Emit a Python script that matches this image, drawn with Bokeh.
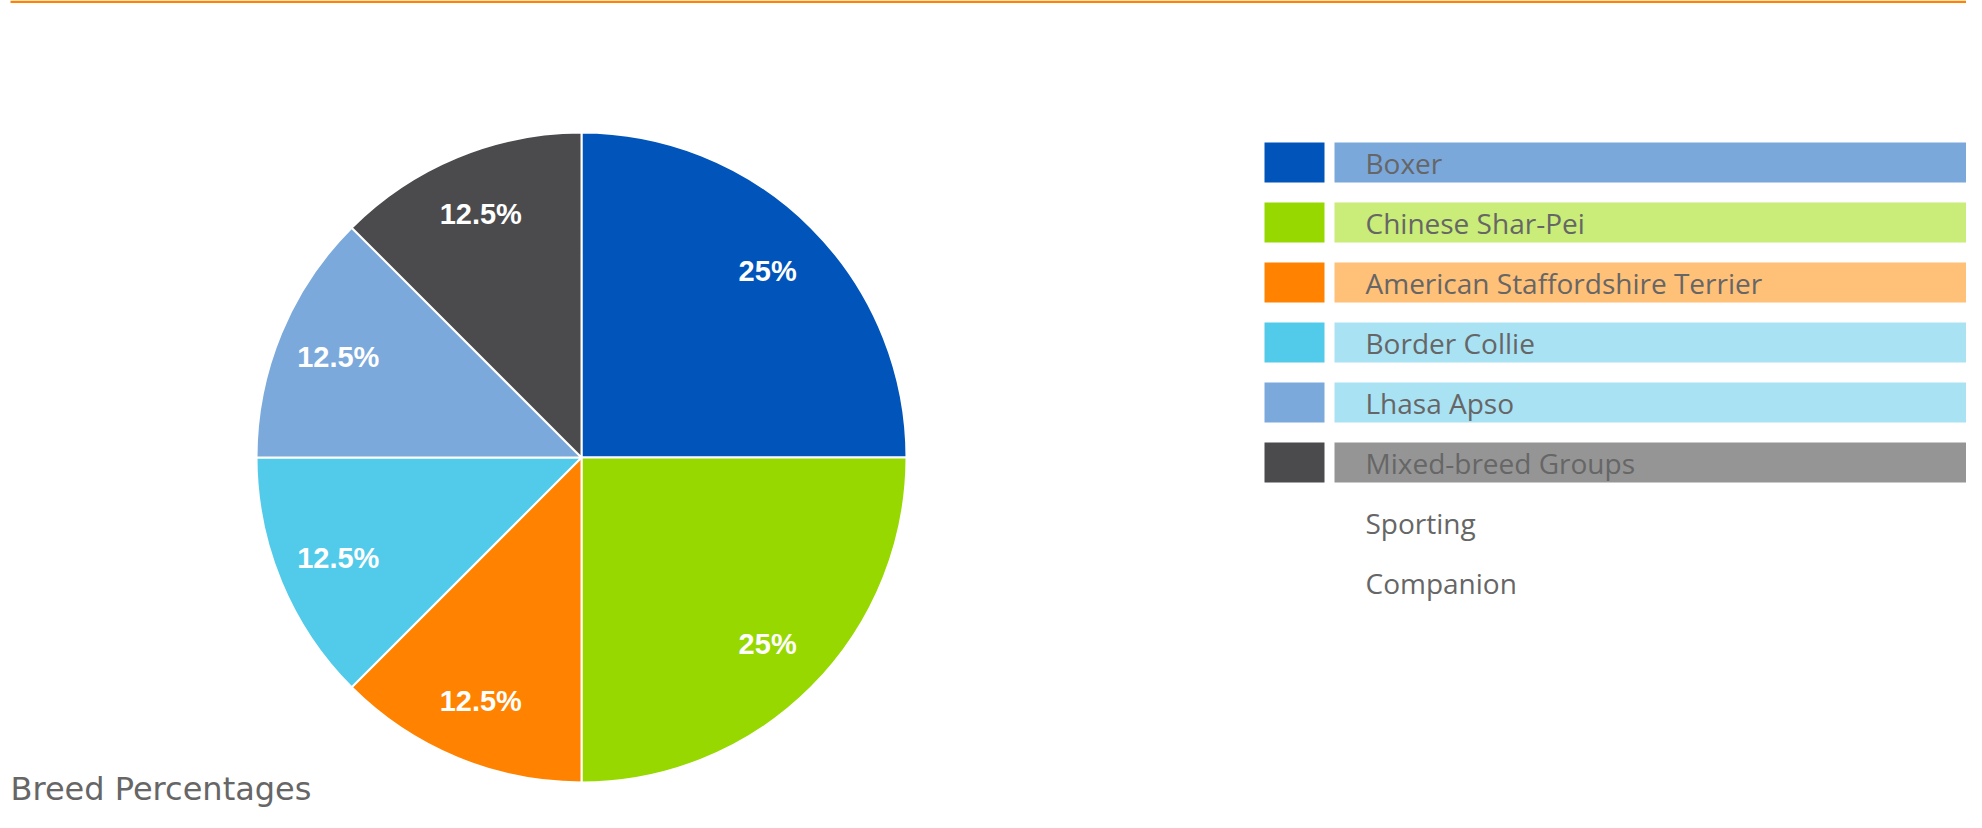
import numpy as np
from bokeh.plotting import figure
from bokeh.models import Range1d, ColumnDataSource
from bokeh.embed import file_html
from bokeh.resources import INLINE
from bokeh.core.properties import value

# ---- data ----
breeds = ["Boxer", "Chinese Shar-Pei", "American Staffordshire Terrier",
          "Border Collie", "Lhasa Apso", "Mixed-breed Groups"]
shares = [25, 25, 12.5, 12.5, 12.5, 12.5]
slice_colors = ["#0054BA", "#96D800", "#FF8300", "#52CAEA", "#7BA9DB", "#4B4B4E"]
legend_bar_colors = ["#7BA8DB", "#CAEC78", "#FFC078", "#A9E2F3", "#A9E2F3", "#959595"]
extra_labels = ["Sporting", "Companion"]
title_text = "Breed Percentages"

# ---- layout: positions given in picture pixels ----
W, H = 1966, 812
def sy(y):
    return H - y

p = figure(width=W, height=H, output_backend="svg", toolbar_location=None,
           x_range=Range1d(0, W), y_range=Range1d(0, H), min_border=0,
           background_fill_color="white", border_fill_color="white")
p.axis.visible = False
p.xgrid.visible = False
p.ygrid.visible = False
p.outline_line_color = None

# top orange rule
p.quad(left=[10], right=[W], bottom=[H - 2.5], top=[H], fill_color="#FF8300", line_color=None)

# pie
cx, cy, R = 581, sy(457), 325
vals = np.array(shares, dtype=float)
frac = vals / vals.sum()
cum = np.cumsum(frac)
start = np.pi / 2 - 2 * np.pi * (cum - frac)
end = np.pi / 2 - 2 * np.pi * cum
mid = (start + end) / 2
pie_src = ColumnDataSource(dict(start=start, end=end, color=slice_colors,
                                lx=cx + 0.81 * R * np.cos(mid),
                                ly=cy + 0.81 * R * np.sin(mid),
                                lab=[f"{v:g}%" for v in shares]))
p.wedge(x=cx, y=cy, radius=R, start_angle="start", end_angle="end", direction="clock",
        fill_color="color", line_color="white", line_width=2, source=pie_src)
p.text(x="lx", y="ly", text="lab", source=pie_src, text_color="white",
       text_font=value("Liberation Sans"), text_font_style="bold", text_font_size="29px",
       text_align="center", text_baseline="middle")

# legend
n = len(breeds)
row_c = [162 + 60 * i for i in range(n + len(extra_labels))]
leg_src = ColumnDataSource(dict(y=[sy(c) for c in row_c[:n]], sw=slice_colors,
                                bar=legend_bar_colors))
p.rect(x=1294, y="y", width=60, height=40, fill_color="sw", line_color=None, source=leg_src)
p.rect(x=(1334 + 1966) / 2, y="y", width=1966 - 1334, height=40, fill_color="bar",
       line_color=None, source=leg_src)
txt_src = ColumnDataSource(dict(y=[sy(c) for c in row_c], t=breeds + extra_labels))
p.text(x=1365, y="y", text="t", source=txt_src, text_color="#666666",
       text_font=value("Open Sans"), text_font_size="28px",
       text_align="left", text_baseline="middle")

# title (kept inside the figure's bottom edge)
p.text(x=[10], y=[sy(788)], text=[title_text], text_color="#666666",
       text_font=value("DejaVu Sans"), text_font_size="32px",
       text_align="left", text_baseline="middle")

open("out.html", "w").write(file_html(p, INLINE))
